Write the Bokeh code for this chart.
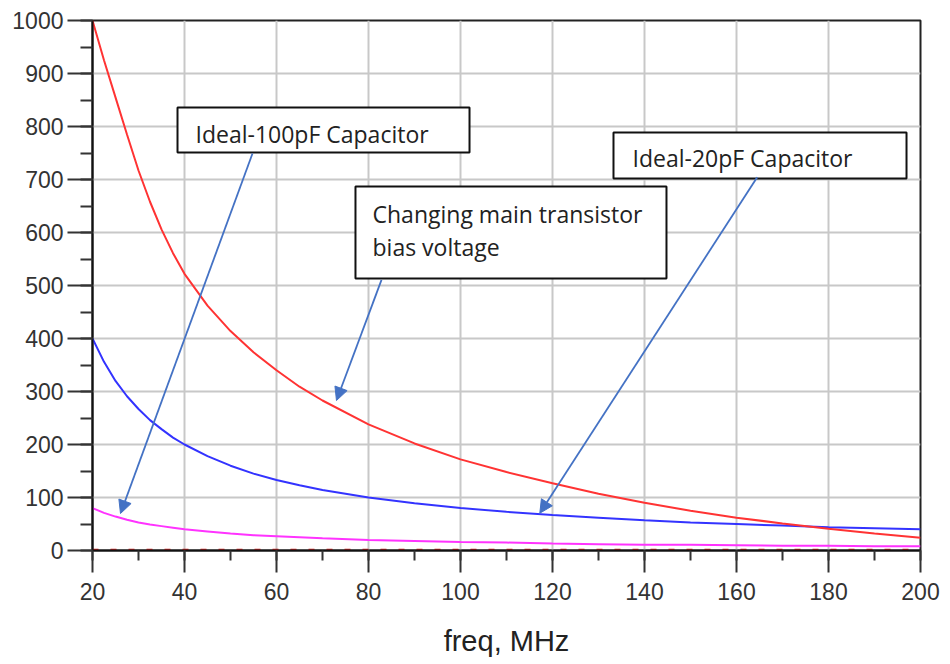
from bokeh.plotting import figure
from bokeh.models import (Range1d, SingleIntervalTicker, BoxAnnotation, Label,
                          Arrow, NormalHead)
from bokeh.embed import file_html
from bokeh.resources import INLINE

# ---- data ----
freq = [20, 22.5, 25, 27.5, 30, 32.5, 35, 37.5, 40, 45, 50, 55, 60, 65, 70, 80,
        90, 100, 110, 120, 130, 140, 150, 160, 170, 180, 190, 200]
bias_voltage = [1000, 925, 855, 785, 717, 658, 606, 561, 522, 462, 414, 374, 340,
                309, 283, 238, 202, 172, 148, 127, 107, 90, 75, 62, 51, 41, 32, 24]
ideal_20pF = [400, 356, 320, 291, 267, 246, 229, 213, 200, 178, 160, 145, 133,
              123, 114, 100, 89, 80, 73, 67, 62, 57, 53, 50, 47, 44, 42, 40]
ideal_100pF = [80, 71, 64, 58, 53, 49, 46, 43, 40, 36, 32, 29, 27, 25, 23, 20,
               18, 16, 15, 13, 12, 11, 11, 10, 9, 9, 8, 8]
near_zero = [1] * len(freq)

x_ticks_interval = 20
y_ticks_interval = 100

TICK_FONT = "Liberation Sans"
NOTE_FONT = "Open Sans"
ARROW_COLOR = "#4472C4"

p = figure(width=950, height=664, output_backend="svg", toolbar_location=None,
           x_range=Range1d(20, 200), y_range=Range1d(0, 1000),
           min_border_left=92, min_border_right=30, min_border_top=20,
           min_border_bottom=114, background_fill_color="white",
           border_fill_color="white")

p.outline_line_color = "#222222"
p.outline_line_width = 2

# grid
for g in (p.xgrid, p.ygrid):
    g.grid_line_color = "#c8c8c8"
    g.grid_line_width = 2

# axes
p.xaxis.ticker = SingleIntervalTicker(interval=x_ticks_interval, num_minor_ticks=2)
p.yaxis.ticker = SingleIntervalTicker(interval=y_ticks_interval, num_minor_ticks=2)
for ax in (p.xaxis, p.yaxis):
    ax.axis_line_color = "#111111"
    ax.axis_line_width = 2
    ax.major_tick_line_color = "#333333"
    ax.minor_tick_line_color = "#333333"
    ax.major_tick_line_width = 2
    ax.minor_tick_line_width = 2
    ax.major_tick_in = 0
    ax.minor_tick_in = 0
    ax.major_label_text_font = TICK_FONT
    ax.major_label_text_font_size = "23px"
    ax.major_label_text_color = "#333333"
p.xaxis.major_tick_out = 22
p.xaxis.minor_tick_out = 10
p.yaxis.major_tick_out = 25
p.yaxis.minor_tick_out = 12
p.xaxis.major_label_standoff = 10
p.yaxis.major_label_standoff = 4

p.xaxis.axis_label = "freq, MHz"
p.xaxis.axis_label_text_font = TICK_FONT
p.xaxis.axis_label_text_font_style = "normal"
p.xaxis.axis_label_text_font_size = "29px"
p.xaxis.axis_label_text_color = "#222222"
p.xaxis.axis_label_standoff = 22

# curves
p.line(freq, near_zero, line_color="#cc2222", line_width=2.5, line_dash="6 12")
p.line(freq, ideal_100pF, line_color="#ff33ff", line_width=2)
p.line(freq, ideal_20pF, line_color="#3333ff", line_width=2)
p.line(freq, bias_voltage, line_color="#ff3333", line_width=2)

# annotation boxes
boxes = [
    (38.48, 101.96, 750.9, 835.8),
    (77.17, 144.78, 513.2, 686.8),
    (133.26, 196.96, 701.9, 788.7),
]
for l, r, b, t in boxes:
    p.add_layout(BoxAnnotation(left=l, right=r, bottom=b, top=t,
                               fill_color="white", fill_alpha=1.0,
                               line_color="#111111", line_width=2, line_alpha=1.0))

notes = [
    (42.39, 786.0, "Ideal-100pF Capacitor"),
    (80.87, 635.0, "Changing main transistor"),
    (80.87, 572.5, "bias voltage"),
    (137.39, 740.0, "Ideal-20pF Capacitor"),
]
for x, y, t in notes:
    p.add_layout(Label(x=x, y=y, text=t, text_font=NOTE_FONT, text_font_size="23px",
                       text_color="#222222", text_baseline="alphabetic",
                       text_align="left"))

arrows = [
    (54.78, 749.0, 26.09, 69.8),
    (82.83, 510.7, 73.04, 283.0),
    (164.5, 704.3, 117.24, 70.4),
]
for xs, ys, xe, ye in arrows:
    p.add_layout(Arrow(x_start=xs, y_start=ys, x_end=xe, y_end=ye,
                       line_color=ARROW_COLOR, line_width=1.8,
                       end=NormalHead(size=13, fill_color=ARROW_COLOR,
                                      line_color=ARROW_COLOR, line_width=1)))

open("out.html", "w").write(file_html(p, INLINE))
